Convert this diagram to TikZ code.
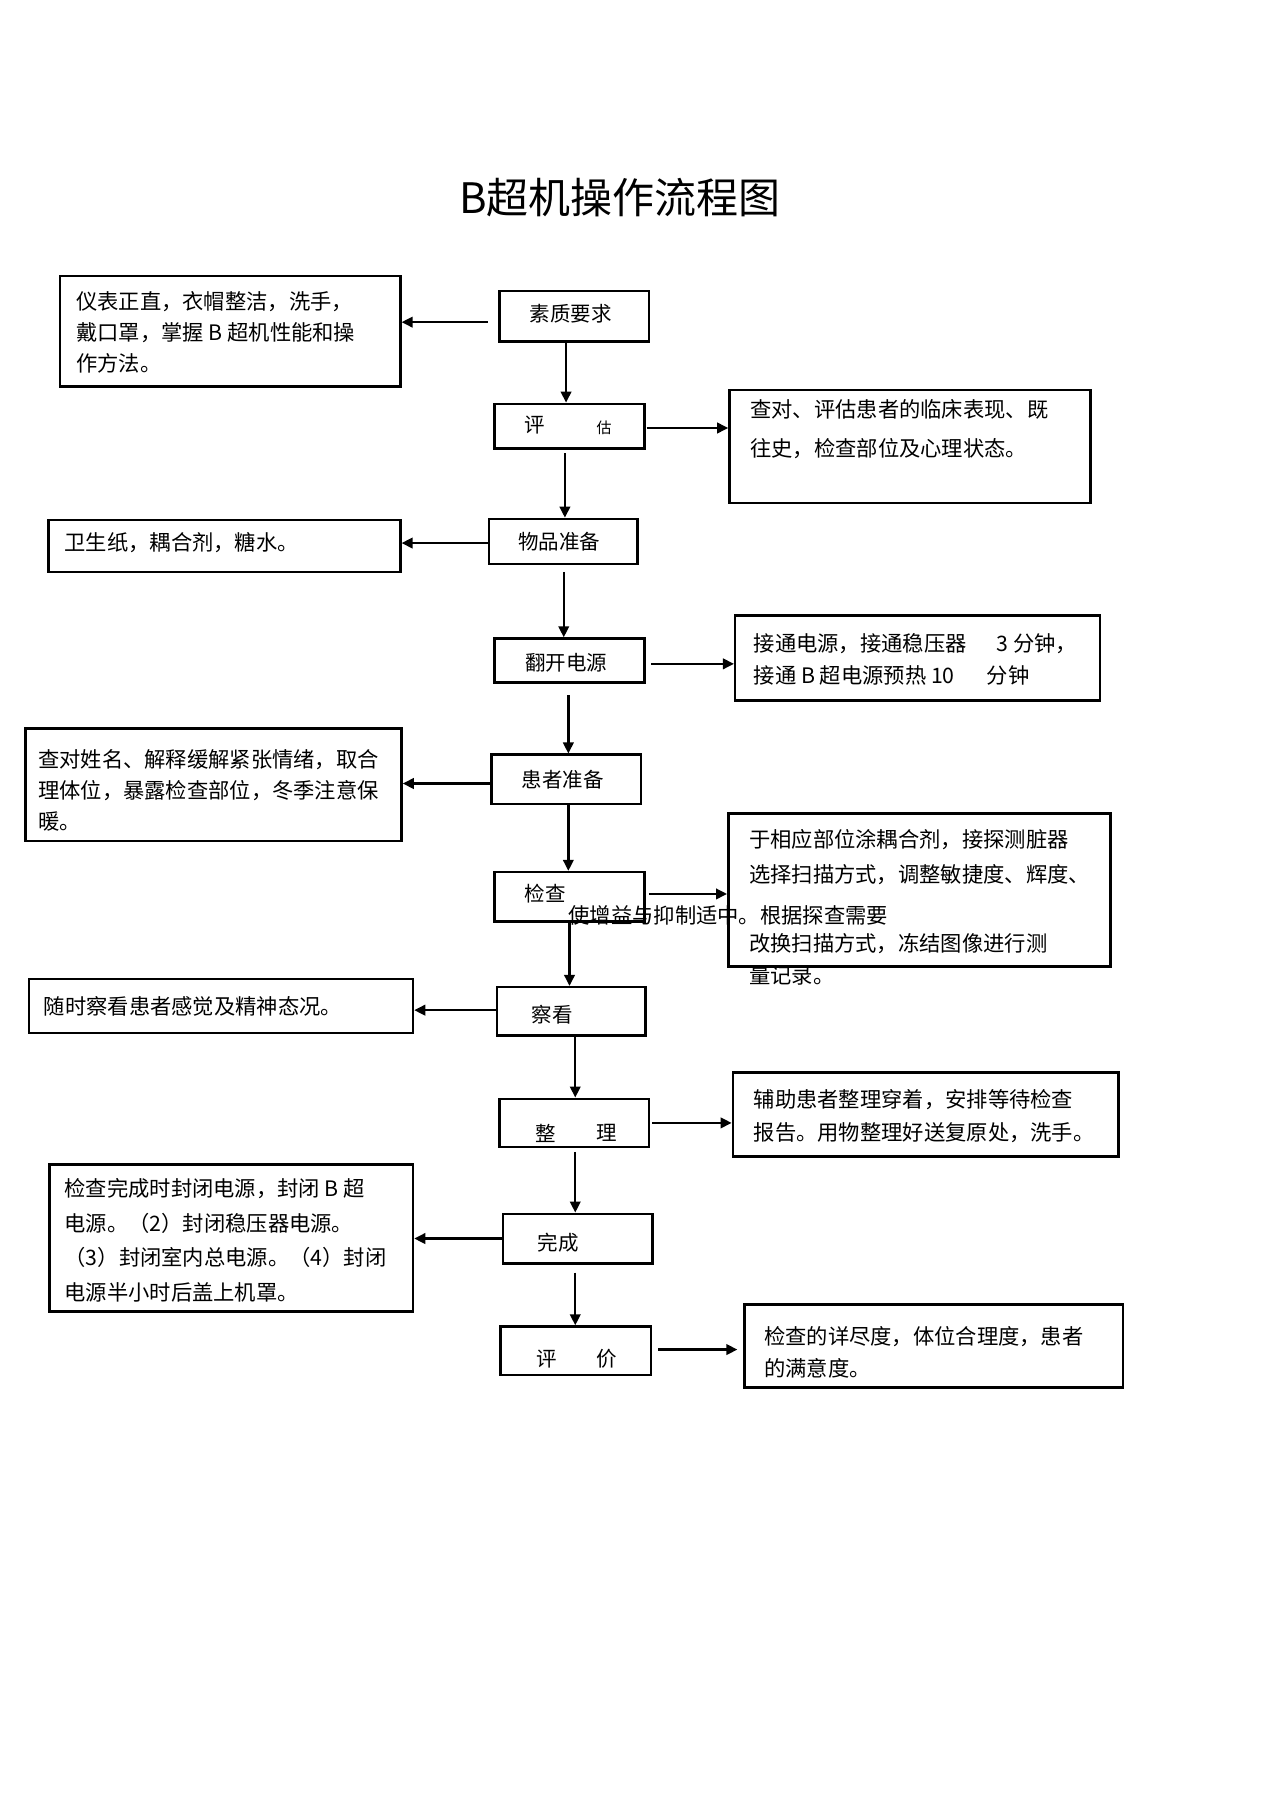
\documentclass[tikz,border=0pt]{standalone}
\usepackage{fontspec}
\setmainfont{Noto Sans CJK SC}
\usetikzlibrary{arrows.meta,fit,calc}
\begin{document}
\begin{tikzpicture}[x=1.1508pt,y=-1.1508pt,
  box/.style={draw=black, line width=2.5pt, inner sep=0pt, rectangle},
  arr/.style={line width=2.3pt, -{Triangle[length=11pt,width=10.5pt]}},
  body/.style={font=\fontsize{21.3}{31}\selectfont, inner sep=0pt, align=left, anchor=west},
  lab/.style={font=\fontsize{20.5}{24}\selectfont, inner sep=0pt}]
\useasboundingbox (0,0) rectangle (1107,1568);
\fill[white] (0,0) rectangle (1107,1568);

% title
\node[font=\fontsize{42}{48}\selectfont, inner sep=0pt] (title) at (539,172) {B超机操作流程图};

% side texts
\node[body] (tl1) at (66,289) {仪表正直，衣帽整洁，洗手，\\戴口罩，掌握 B 超机性能和操\\作方法。};
\node[body, font=\fontsize{21.3}{39}\selectfont] (tr2) at (652,373) {查对、评估患者的临床表现、既\\往史，检查部位及心理状态。};
\node[body] (tl3) at (56,472) {卫生纸，耦合剂，糖水。};
\node[body, font=\fontsize{21.3}{32}\selectfont] (tr4) at (655,573) {接通电源，接通稳压器\hspace{30pt}3 分钟，\\接通 B 超电源预热 10\hspace{32pt}分钟};
\node[body] (tl5) at (33,687) {查对姓名、解释缓解紧张情绪，取合\\理体位，暴露检查部位，冬季注意保\\暖。};
\node[body, font=\fontsize{21.3}{34.5}\selectfont] (tr6a) at (651,745) {于相应部位涂耦合剂，接探测脏器\\选择扫描方式，调整敏捷度、辉度、};
\node[body] (tr6b) at (494,796) {使增益与抑制适中。根据探查需要};
\node[body, font=\fontsize{21.3}{32}\selectfont] (tr6c) at (651,834) {改换扫描方式，冻结图像进行测\\量记录。};
\node[body] (tl7) at (38,875) {随时察看患者感觉及精神态况。};
\node[body, font=\fontsize{21.3}{33}\selectfont] (tr8) at (655,970) {辅助患者整理穿着，安排等待检查\\报告。用物整理好送复原处，洗手。};
\node[body, font=\fontsize{21.3}{34.5}\selectfont] (tl9) at (56,1078) {检查完成时封闭电源，封闭 B 超\\电源。（2）封闭稳压器电源。\\（3）封闭室内总电源。（4）封闭\\电源半小时后盖上机罩。};
\node[body, font=\fontsize{21.3}{32}\selectfont] (tr10) at (664,1175) {检查的详尽度，体位合理度，患者\\的满意度。};

% main labels
\node[lab] (t1) at (496,273) {素质要求};
\node[lab] (t2a) at (465,369) {评};
\node[font=\fontsize{15}{18}\selectfont, inner sep=0pt] (t2b) at (525,372) {估};
\node[lab] (t3) at (486,471) {物品准备};
\node[lab] (t4) at (492,576) {翻开电源};
\node[lab] (t5) at (489,678) {患者准备};
\node[lab] (t6) at (474,777) {检查};
\node[lab] (t7) at (480,882) {察看};
\node[lab] (t8a) at (474,985) {整};
\node[lab] (t8b) at (527,985) {理};
\node[lab] (t9) at (485,1080) {完成};
\node[lab] (t10a) at (475,1181) {评};
\node[lab] (t10b) at (527,1181) {价};

% main boxes
\node[box, fit={(434,253) (564,297)}] (b1) {};
\node[box, fit={(430,351) (560,390)}] (b2) {};
\node[box, fit={(425,451) (554,490)}] (b3) {};
\node[box, fit={(430,555) (560,593)}] (b4) {};
\node[box, fit={(427,656) (557,699)}] (b5) {};
\node[box, fit={(430,758) (560,801)}] (b6) {};
\node[box, fit={(432,858) (561,900)}] (b7) {};
\node[box, fit={(434,955) (564,997)}] (b8) {};
\node[box, fit={(437,1055) (567,1098)}] (b9) {};
\node[box, fit={(435,1153) (566,1195)}] (b10) {};

% side boxes
\node[box, fit={(52,240) (348,336)}] (L1) {};
\node[box, fit={(634,339) (948,437)}] (R2) {};
\node[box, fit={(42,452) (348,497)}] (L3) {};
\node[box, fit={(639,535) (956,609)}] (R4) {};
\node[box, fit={(22,633) (349,731)}] (L5) {};
\node[box, fit={(633,707) (965,840)}] (R6) {};
\node[box, fit={(25,851) (359,898)}] (L7) {};
\node[box, fit={(637,932) (972,1005)}] (R8) {};
\node[box, fit={(43,1012) (359,1140)}] (L9) {};
\node[box, fit={(647,1134) (976,1206)}] (R10) {};

% vertical arrows
\coordinate (v1) at ($(b1.south)+(-7,0)$);
\draw[arr] (v1) -- (v1 |- b2.north);
\coordinate (v2) at ($(b2.south)+(-4,3)$);
\draw[arr] (v2) -- (v2 |- b3.north);
\coordinate (v3) at ($(b3.south)+(0.5,6)$);
\draw[arr] (v3) -- (v3 |- b4.north);
\coordinate (v4) at ($(b4.south)+(-1,10)$);
\draw[arr] (v4) -- (v4 |- b5.north);
\coordinate (v5) at ($(b5.south)+(2,0)$);
\draw[arr] (v5) -- (v5 |- b6.north);
\coordinate (v6) at ($(b6.south)+(0,0)$);
\draw[arr] (v6) -- (v6 |- b7.north);
\coordinate (v7) at ($(b7.south)+(3.5,0)$);
\draw[arr] (v7) -- (v7 |- b8.north);
\coordinate (v8) at ($(b8.south)+(1,3)$);
\draw[arr] (v8) -- (v8 |- b9.north);
\coordinate (v9) at ($(b9.south)+(-2,7)$);
\draw[arr] (v9) -- (v9 |- b10.north);

% horizontal arrows
\coordinate (h1) at ($(b1.west)+(-9,5)$);
\draw[arr] (h1) -- (h1 -| L1.east);
\coordinate (h2) at ($(b2.east)+(1,1.5)$);
\draw[arr] (h2) -- (h2 -| R2.west);
\coordinate (h3) at ($(b3.west)+(0,1.5)$);
\draw[arr] (h3) -- (h3 -| L3.east);
\coordinate (h4) at ($(b4.east)+(5,3)$);
\draw[arr] (h4) -- (h4 -| R4.west);
\coordinate (h5) at ($(b5.west)+(0,3.5)$);
\draw[arr] (h5) -- (h5 -| L5.east);
\coordinate (h6) at ($(b6.east)+(3,-2.5)$);
\draw[arr] (h6) -- (h6 -| R6.west);
\coordinate (h7) at ($(b7.west)+(0,-1)$);
\draw[arr] (h7) -- (h7 -| L7.east);
\coordinate (h8) at ($(b8.east)+(2,0)$);
\draw[arr] (h8) -- (h8 -| R8.west);
\coordinate (h9) at ($(b9.west)+(0,0)$);
\draw[arr] (h9) -- (h9 -| L9.east);
\coordinate (h10) at ($(b10.east)+(5,-1)$);
\draw[arr] (h10) -- ($(h10 -| R10.west)+(-5,0)$);
\end{tikzpicture}
\end{document}
